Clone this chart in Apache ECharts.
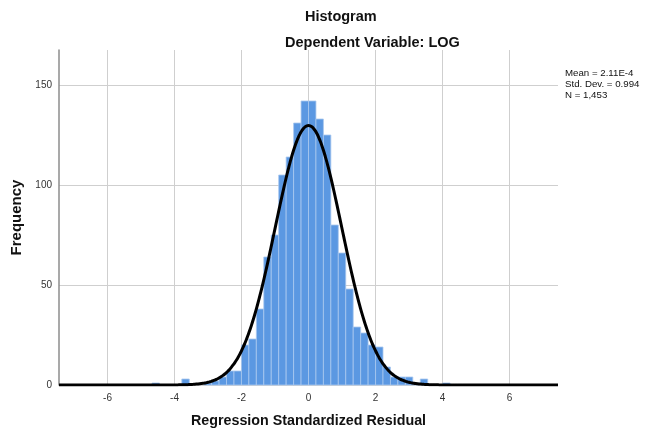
<!DOCTYPE html>
<html>
<head>
<meta charset="utf-8">
<script src="https://cdn.jsdelivr.net/npm/echarts@6/dist/echarts.min.js"></script>
<style>
  html, body { margin: 0; padding: 0; background: #fff; }
  #chart { width: 646px; height: 432px; }
</style>
</head>
<body>
<div id="chart"></div>
<script>
// histogram bins: first bin starts at firstEdge, each bin binWidth wide
const firstEdge = -21 * 0.2225
const binWidth = 0.2225
const counts = [
  1, 0, 0, 0, 3, 0, 0, 1, 2, 4,
  7, 7, 20, 23, 38, 64, 75, 105, 114, 131,
  142, 142, 133, 125, 80, 66, 48, 29, 26, 20,
  19, 9, 4, 4, 4, 1, 3, 0, 0, 1
]
const xTicks = [-6, -4, -2, 0, 2, 4, 6]
const yTicks = [0, 50, 100, 150]

// fitted normal curve parameters (from the chart's legend)
const mean = 2.11e-4
const stdDev = 0.994
const n = 1453
const statLines = ['Mean = 2.11E-4', 'Std. Dev. = 0.994', 'N = 1,453']

const xMin = -7.45, xMax = 7.45

const bins = counts.map((c, i) => {
  const start = firstEdge + i * binWidth
  return [start, start + binWidth, c]
}).filter(b => b[2] > 0)

const curve = []
for (let x = xMin; x <= xMax + 1e-9; x += 0.05) {
  const z = (x - mean) / stdDev
  const y = n * binWidth * Math.exp(-0.5 * z * z) / (stdDev * Math.sqrt(2 * Math.PI))
  curve.push([x, y])
}

const font = '"Liberation Sans", Arial, sans-serif'

const chart = echarts.init(document.getElementById('chart'))
chart.setOption({
  animation: false,
  grid: { left: 59, right: 88, top: 50, bottom: 47, outerBoundsMode: 'none', containLabel: false },
  xAxis: {
    type: 'value',
    min: xMin,
    max: xMax,
    name: 'Regression Standardized Residual',
    nameLocation: 'middle',
    nameGap: 29,
    nameTextStyle: { fontFamily: font, fontWeight: 'bold', fontSize: 14.3, color: '#111' },
    axisLine: { show: false },
    axisTick: { show: false, customValues: xTicks },
    splitLine: { show: true, showMinLine: true, showMaxLine: true, lineStyle: { color: '#cfcfcf', width: 1 } },
    axisLabel: {
      customValues: xTicks,
      fontFamily: font, fontSize: 10, color: '#333', margin: 8
    }
  },
  yAxis: {
    type: 'value',
    min: 0,
    max: 167.5,
    interval: 50,
    name: 'Frequency',
    nameLocation: 'middle',
    nameGap: 33,
    nameTextStyle: { fontFamily: font, fontWeight: 'bold', fontSize: 15, color: '#111' },
    axisLine: { show: true, onZero: false, lineStyle: { color: '#8c8c8c', width: 1.5 } },
    axisTick: { show: false, customValues: yTicks },
    splitLine: { show: true, showMinLine: true, showMaxLine: true, lineStyle: { color: '#cfcfcf', width: 1 } },
    axisLabel: { customValues: yTicks, fontFamily: font, fontSize: 10, color: '#333', margin: 7 }
  },
  graphic: [
    { type: 'text', left: 305, top: 9, style: { text: 'Histogram', font: 'bold 14.5px ' + font, fill: '#111' } },
    { type: 'text', left: 285, top: 35, style: { text: 'Dependent Variable: LOG', font: 'bold 14.5px ' + font, fill: '#111' } },
    { type: 'text', left: 565, top: 68, style: { text: statLines.join('\n'), font: '9.7px ' + font, fill: '#111', lineHeight: 11 } }
  ],
  series: [
    {
      type: 'custom',
      z: 2,
      data: bins,
      renderItem: (params, api) => {
        const p0 = api.coord([api.value(0), api.value(2)])
        const p1 = api.coord([api.value(1), 0])
        return {
          type: 'rect',
          shape: { x: p0[0], y: p0[1], width: p1[0] - p0[0], height: p1[1] - p0[1] },
          style: { fill: '#5b98e2', stroke: '#a9c8ef', lineWidth: 0.8 }
        }
      }
    },
    {
      type: 'line',
      z: 3,
      data: curve,
      smooth: true,
      showSymbol: false,
      lineStyle: { color: '#000', width: 3 }
    }
  ]
})
</script>
</body>
</html>
